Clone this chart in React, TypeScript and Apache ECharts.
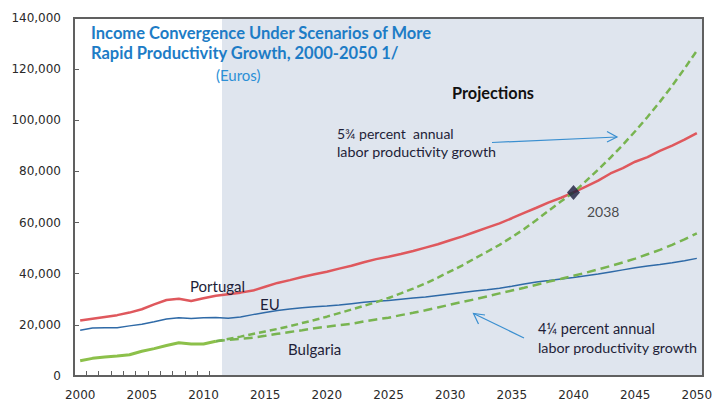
import React, { useEffect, useRef } from "react";
import * as echarts from "echarts";

const years: string[] = Array.from({ length: 51 }, (_, i) => String(2000 + i));

const portugal = [
  21700, 22400, 23100, 23800, 24800, 26100, 28000, 29700, 30200, 29300,
  30400, 31400, 32000, 32600, 33400, 34900, 36400, 37500, 38700, 39800,
  40800, 42000, 43100, 44500, 45700, 46600, 47700, 48900, 50200, 51500,
  53100, 54600, 56300, 58000, 59700, 61700, 63800, 65800, 67900, 69700,
  71800, 74100, 76400, 79200, 81300, 83800, 85600, 88000, 90100, 92400,
  95000,
];

const eu = [
  17900, 18800, 18900, 18900, 19600, 20200, 21200, 22300, 22800, 22500,
  22800, 22900, 22600, 23100, 24000, 24800, 25600, 26200, 26700, 27100,
  27400, 27800, 28300, 28800, 29200, 29500, 30000, 30500, 30900, 31500,
  32100, 32700, 33200, 33700, 34300, 35100, 36000, 36800, 37300, 37900,
  38500, 39200, 39900, 40700, 41500, 42300, 43000, 43600, 44300, 45100,
  46000,
];

// Bulgaria actual, 2000-2011
const bulgariaActual = [6000, 6900, 7400, 7800, 8300, 9700, 10700, 11900, 13000, 12500, 12500, 13600];

// Bulgaria projections, 2011-2050
const bulgariaHigh = [
  13600, 14500, 15400, 16400, 17400, 18400, 19500, 20700, 21900, 23200,
  24600, 26000, 27400, 28900, 30500, 32300, 34200, 36200, 38500, 40900,
  43300, 46000, 48600, 51300, 54300, 57500, 61000, 64700, 68300, 71800,
  76200, 80700, 85400, 90400, 95700, 101300, 107200, 113500, 120200, 127200,
];
const bulgariaLow = [
  13600, 14100, 14500, 15000, 15700, 16500, 17200, 17900, 18700, 19300,
  19900, 20400, 21300, 22100, 22800, 23800, 24700, 25700, 26800, 27900,
  29000, 30000, 31100, 32300, 33400, 34500, 35700, 36900, 38000, 39200,
  40400, 41700, 43000, 44400, 45900, 47600, 49300, 51300, 53400, 55800,
];

const projectionStart = 2011.5;
const projectionEnd = 2050.5;
const crossYear = "2040";
const crossValue = 71800;
const crossLabel = "2038";

const pad = (n: number) => Array(n).fill(null);

export default function App() {
  const ref = useRef<HTMLDivElement>(null);
  useEffect(() => {
    if (!ref.current) return;
    const chart = echarts.init(ref.current, undefined, { renderer: "svg" });
    const lblFont = "Lato, 'Open Sans', sans-serif";
    const textCol = "#1e1e38";
    const arrowCol = "#3a8fd0";
    const txt = (x: number, y: number, text: string, font: string, fill: string) => ({
      type: "text", z: 101, x, y, silent: true,
      style: { text, font, fill, align: "left", verticalAlign: "middle" },
    });
    chart.setOption({
      animation: false,
      backgroundColor: "#ffffff",
      grid: { left: 74, right: 13, top: 18, bottom: 28, containLabel: false },
      xAxis: [
        {
          type: "category",
          data: years,
          boundaryGap: true,
          axisLine: { show: true, lineStyle: { color: "#606060", width: 2 } },
          axisTick: { show: true, inside: true, interval: 0, length: 5, lineStyle: { color: "#606060", width: 1 } },
          axisLabel: { interval: 4, margin: 13, color: "#2a2a2a", fontFamily: "DejaVu Sans", fontSize: 12 },
          splitLine: { show: false },
        },
        { type: "value", min: 1999.5, max: 2050.5, show: false },
      ],
      yAxis: {
        type: "value",
        min: 0,
        max: 140000,
        interval: 20000,
        axisLine: { show: true, lineStyle: { color: "#606060", width: 2 } },
        axisTick: { show: true, inside: true, length: 5, lineStyle: { color: "#606060" } },
        axisLabel: {
          margin: 13,
          color: "#2a2a2a",
          fontFamily: "DejaVu Sans",
          fontSize: 12,
          formatter: (v: number) => v.toLocaleString("en-US"),
        },
        splitLine: { show: false },
      },
      series: [
        {
          type: "line",
          xAxisIndex: 1,
          data: [],
          silent: true,
          markArea: {
            silent: true,
            itemStyle: { color: "#dfe5ee" },
            data: [[{ xAxis: projectionStart }, { xAxis: projectionEnd }]],
          },
        },
        {
          name: "EU",
          type: "line",
          data: eu,
          symbol: "none",
          lineStyle: { color: "#2f6aa7", width: 1.5 },
        },
        {
          name: "Portugal",
          type: "line",
          data: portugal,
          symbol: "none",
          lineStyle: { color: "#df585d", width: 2.5 },
        },
        {
          name: "Bulgaria",
          type: "line",
          data: [...bulgariaActual, ...pad(years.length - bulgariaActual.length)],
          symbol: "none",
          lineStyle: { color: "#8cc04a", width: 3 },
        },
        {
          name: "Bulgaria 5.75%",
          type: "line",
          data: [...pad(years.length - bulgariaHigh.length), ...bulgariaHigh],
          symbol: "none",
          lineStyle: { color: "#78b450", width: 2.5, type: [7, 4] },
        },
        {
          name: "Bulgaria 4.25%",
          type: "line",
          data: [...pad(years.length - bulgariaLow.length), ...bulgariaLow],
          symbol: "none",
          lineStyle: { color: "#78b450", width: 2.5, type: [9, 5] },
        },
        {
          name: "Crossover",
          type: "scatter",
          data: [[crossYear, crossValue]],
          symbol: "diamond",
          symbolSize: [13, 15],
          itemStyle: { color: "#1c1c3c" },
          z: 5,
          label: {
            show: true,
            formatter: crossLabel,
            position: "right",
            offset: [2, 19],
            color: "#222",
            fontFamily: lblFont,
            fontSize: 14,
          },
        },
      ],
      graphic: [
        {
          type: "rect",
          z: 100,
          silent: true,
          shape: { x: 74, y: 18, width: 629, height: 358 },
          style: { fill: "none", stroke: "#606060", lineWidth: 2 },
        },
        txt(91, 33, "Income Convergence Under Scenarios of More", `bold 16.5px ${lblFont}`, "#1d7cc6"),
        txt(91, 53, "Rapid Productivity Growth, 2000-2050 1/", `bold 16.5px ${lblFont}`, "#1d7cc6"),
        txt(216, 75, "(Euros)", `15px ${lblFont}`, "#2b8fd6"),
        txt(452, 92, "Projections", `bold 16.3px ${lblFont}`, "#111"),
        txt(337, 133, "5¾ percent  annual", `14px ${lblFont}`, textCol),
        txt(337, 151, "labor productivity growth", `14.3px ${lblFont}`, textCol),
        txt(538, 328, "4¼ percent annual", `14.5px ${lblFont}`, textCol),
        txt(538, 347, "labor productivity growth", `14.3px ${lblFont}`, textCol),
        txt(190, 286, "Portugal", `15px ${lblFont}`, textCol),
        txt(260, 304, "EU", `15px ${lblFont}`, textCol),
        txt(288, 349, "Bulgaria", `15px ${lblFont}`, textCol),
        {
          type: "line", z: 101, silent: true,
          shape: { x1: 492, y1: 142.5, x2: 617, y2: 137 },
          style: { stroke: arrowCol, lineWidth: 1.2 },
        },
        {
          type: "polyline", z: 101, silent: true,
          shape: { points: [[607, 131.5], [617, 137], [607, 142]] },
          style: { stroke: arrowCol, lineWidth: 1.2, fill: "none" },
        },
        {
          type: "line", z: 101, silent: true,
          shape: { x1: 524, y1: 338, x2: 473.5, y2: 313.5 },
          style: { stroke: arrowCol, lineWidth: 1.2 },
        },
        {
          type: "polyline", z: 101, silent: true,
          shape: { points: [[485, 315], [473.5, 313.5], [478.5, 324]] },
          style: { stroke: arrowCol, lineWidth: 1.2, fill: "none" },
        },
      ],
    });
    return () => chart.dispose();
  }, []);
  return (
    <div
      ref={ref}
      style={{ position: "fixed", left: 0, top: 0, width: 716, height: 404, background: "#fff" }}
    />
  );
}
